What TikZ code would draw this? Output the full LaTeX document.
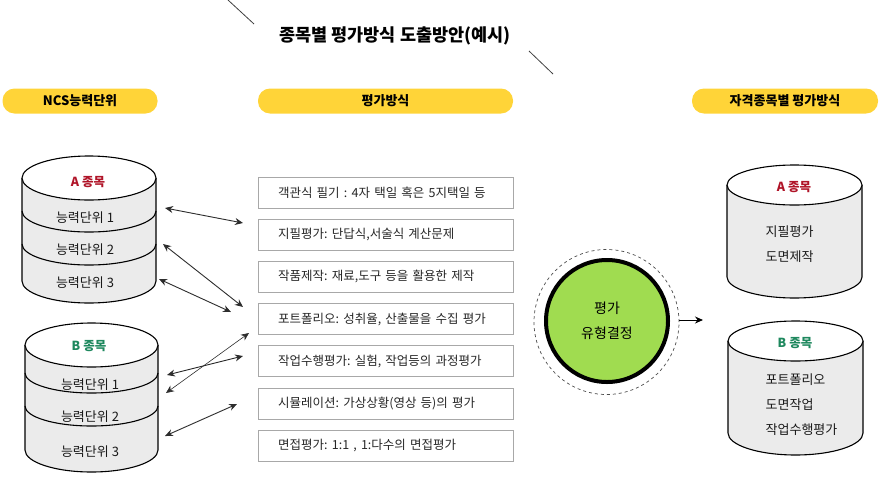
\documentclass[tikz,border=0pt]{standalone}
\usepackage{fontspec}
\setmainfont{Noto Sans CJK KR}
\usepackage{xcolor}
\usepackage{tikz}
\usetikzlibrary{arrows.meta}
\usetikzlibrary{positioning}

\definecolor{pillyellow}{RGB}{255,212,56}
\definecolor{cylgray}{RGB}{235,235,235}
\definecolor{boxgray}{RGB}{168,168,168}
\definecolor{ared}{RGB}{176,20,40}
\definecolor{bgreen}{RGB}{30,136,94}
\definecolor{circgreen}{RGB}{160,220,80}
\definecolor{arrowgray}{RGB}{45,45,45}

\begin{document}
\begin{tikzpicture}[x=1pt,y=-1pt,>={Stealth[length=8pt,width=7pt]},auto,node distance=42.2pt,semithick]
	\tikzstyle{pill}=[fill=pillyellow, rounded corners=12pt, minimum height=25pt, font=\fontsize{13}{15}\selectfont\bfseries]
	\tikzstyle{method}=[draw=boxgray, line width=1pt, text width=215pt, inner xsep=20pt, minimum height=31pt, align=left, font=\fontsize{12.5}{14}\selectfont, text=black!85]
	\tikzstyle{cyl}=[draw=black, line width=1.1pt, fill=cylgray]
	\tikzstyle{unit}=[font=\fontsize{13}{14}\selectfont, text=black!90]
	\tikzstyle{kind}=[font=\fontsize{12.5}{14}\selectfont\bfseries]
	\tikzstyle{link}=[<->, draw=arrowgray, line width=0.9pt]
	\useasboundingbox (0,0) rectangle (881,488);

	% title
	\node (title) at (395,36) {\fontsize{17.5}{20}\selectfont\bfseries 종목별 평가방식 도출방안(예시)};
	\coordinate (l1) at (228,0);
	\coordinate (l2) at (254,24);
	\coordinate (l3) at (529,51);
	\coordinate (l4) at (553,74);
	\draw[line width=0.8pt, black!75] (l1) -- (l2);
	\draw[line width=0.8pt, black!75] (l3) -- (l4);

	% headers
	\node[pill, minimum width=155pt] (ncs) at (80,101) {NCS능력단위};
	\node[pill, minimum width=255pt] (way) at (385.5,101) {평가방식};
	\node[pill, minimum width=186pt] (job) at (785,101) {자격종목별 평가방식};

	% left cylinder A
	\draw[cyl] (22,178) -- (22,281) arc[start angle=180, end angle=360, x radius=67pt, y radius=22pt] -- (156,178);
	\draw[cyl, fill=white] (89,178) ellipse[x radius=67pt, y radius=22pt];
	\draw[line width=1.1pt] (22,211) arc[start angle=180, end angle=360, x radius=67pt, y radius=21pt];
	\draw[line width=1.1pt] (22,244) arc[start angle=180, end angle=360, x radius=67pt, y radius=21pt];
	\node[kind, text=ared] (ak) at (88,182) {A 종목};
	\node[unit] (a1) at (85,218) {능력단위 1};
	\node[unit] (a2) at (85,250) {능력단위 2};
	\node[unit] (a3) at (85,283) {능력단위 3};

	% left cylinder B
	\draw[cyl] (25,345) -- (25,450) arc[start angle=180, end angle=360, x radius=66.5pt, y radius=22pt] -- (158,345);
	\draw[cyl, fill=white] (91.5,345) ellipse[x radius=66.5pt, y radius=22pt];
	\draw[line width=1.1pt] (25,373) arc[start angle=180, end angle=360, x radius=66.5pt, y radius=20pt];
	\draw[line width=1.1pt] (25,406) arc[start angle=180, end angle=360, x radius=66.5pt, y radius=20pt];
	\node[kind, text=bgreen] (bk) at (89,346) {B 종목};
	\node[unit] (b1) at (90,385) {능력단위 1};
	\node[unit] (b2) at (90,417) {능력단위 2};
	\node[unit] (b3) at (90,452) {능력단위 3};

	% methods
	\node[method] (m1) at (385.5,192.5) {객관식 필기 :\kern-.15em{} 4자 택일 혹은 5지택일 등};
	\node[method] (m2) [below of=m1] {지필평가:\kern-.15em{} 단답식,서술식 계산문제};
	\node[method] (m3) [below of=m2] {작품제작:\kern-.15em{} 재료,도구 등을 활용한 제작};
	\node[method] (m4) [below of=m3] {포트폴리오:\kern-.15em{} 성취율, 산출물을 수집 평가};
	\node[method] (m5) [below of=m4] {작업수행평가:\kern-.15em{} 실험, 작업등의 과정평가};
	\node[method] (m6) [below of=m5] {시뮬레이션:\kern-.15em{} 가상상황(영상 등)의 평가};
	\node[method] (m7) [below of=m6] {면접평가:\kern-.15em{} 1:1 , 1:다수의 면접평가};

	% links
	\coordinate (s1) at (165,208);  \coordinate (t1) at (243,223);
	\coordinate (s2) at (163,244);  \coordinate (t2) at (243,307);
	\coordinate (s3) at (159,279);  \coordinate (t3) at (231,312);
	\coordinate (s4) at (166,393);  \coordinate (t4) at (249,333);
	\coordinate (s5) at (167,375);  \coordinate (t5) at (243,356);
	\coordinate (s6) at (165,436);  \coordinate (t6) at (237,404);
	\draw[link] (s1) -- (t1);
	\draw[link] (s2) -- (t2);
	\draw[link] (s3) -- (t3);
	\draw[link, line width=0.6pt] (s4) -- (t4);
	\draw[link] (s5) -- (t5);
	\draw[link] (s6) -- (t6);

	% decision circle
	\draw[dashed, line width=0.7pt, black!70] (606.5,322) circle[radius=72.5pt];
	\node[circle, draw=black, line width=4pt, fill=circgreen, minimum size=122pt, align=center, font=\fontsize{14}{25}\selectfont] (c) at (607,321) {평가\\유형결정};
	\coordinate (r) at (703,320);
	\draw[->, line width=1pt] (c.east) ++(9,-1) -- (r);

	% right cylinder A
	\draw[cyl] (727,185) -- (727,277) arc[start angle=180, end angle=360, x radius=67.5pt, y radius=21pt] -- (862,185);
	\draw[cyl, fill=white] (794.5,185) ellipse[x radius=67.5pt, y radius=20pt];
	\node[kind, text=ared] (ra) at (794,187) {A 종목};
	\node[unit, align=left, anchor=west, font=\fontsize{13}{25}\selectfont] (rat) at (762,244.5) {지필평가\\도면제작};

	% right cylinder B
	\draw[cyl] (728,341) -- (728,433) arc[start angle=180, end angle=360, x radius=67.5pt, y radius=22pt] -- (863,341);
	\draw[cyl, fill=white] (795.5,341) ellipse[x radius=67.5pt, y radius=20pt];
	\node[kind, text=bgreen] (rb) at (795,343) {B 종목};
	\node[unit, align=left, anchor=west, font=\fontsize{13}{25}\selectfont] (rbt) at (762,405) {포트폴리오\\도면작업\\작업수행평가};
\end{tikzpicture}
\end{document}
